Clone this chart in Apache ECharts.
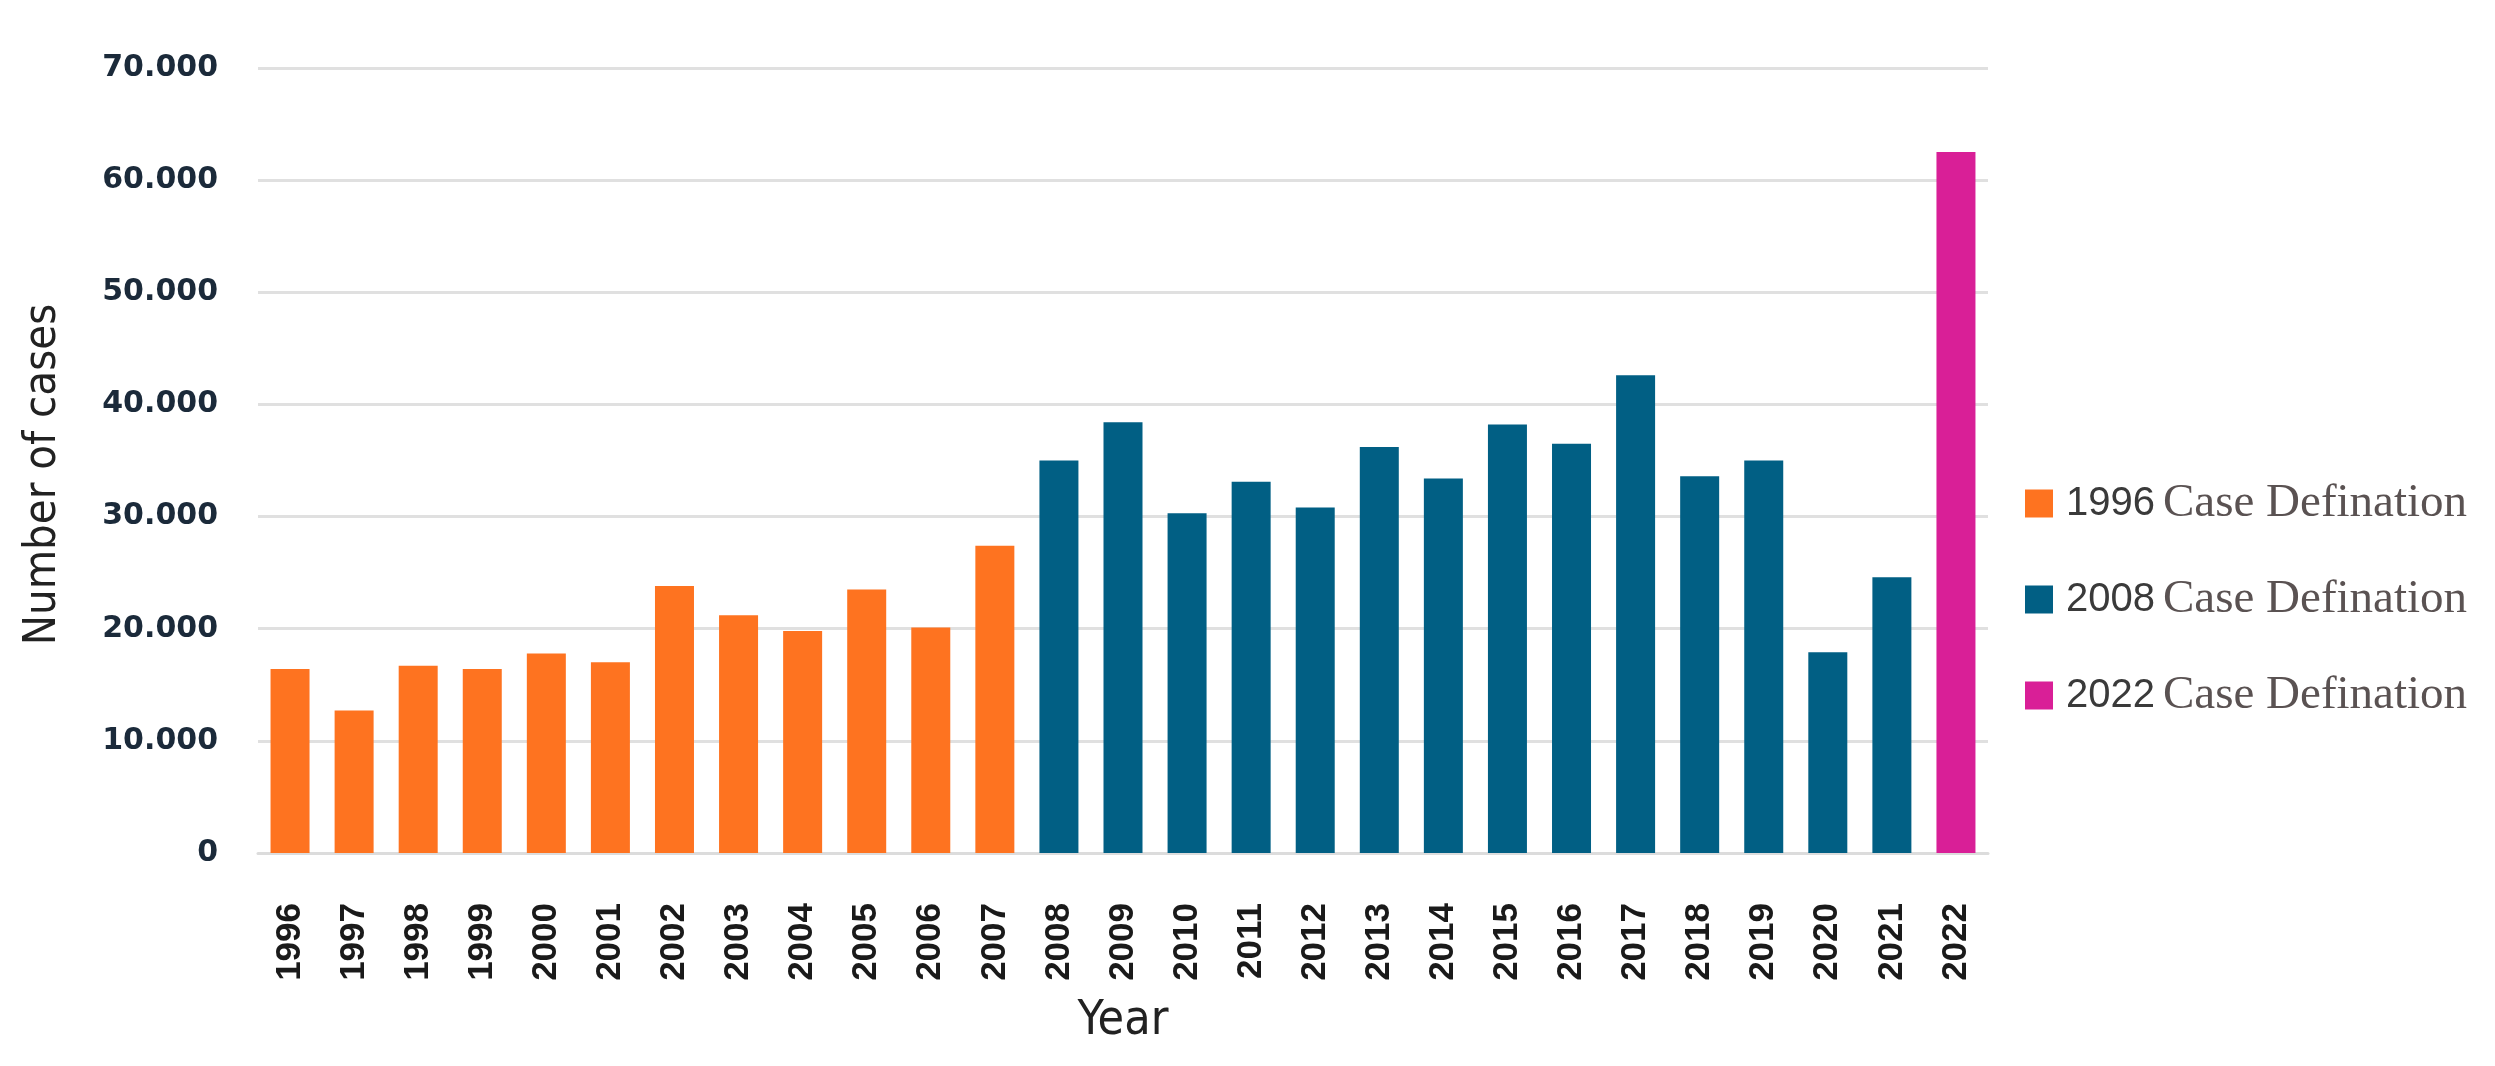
<!DOCTYPE html>
<html>
<head>
<meta charset="utf-8">
<script src="https://cdn.jsdelivr.net/npm/echarts@6/dist/echarts.min.js"></script>
<style>
html,body{margin:0;padding:0;background:#fff;}
#chart{width:2495px;height:1066px;}
</style>
</head>
<body>
<div id="chart"></div>
<script>
const years = ['1996','1997','1998','1999','2000','2001','2002','2003','2004','2005','2006','2007','2008','2009','2010','2011','2012','2013','2014','2015','2016','2017','2018','2019','2020','2021','2022'];
const def1996Values = [16400,12700,16700,16400,17800,17000,23800,21200,19800,23500,20100,27400];
const def2008Values = [35000,38400,30300,33100,30800,36200,33400,38200,36500,42600,33600,35000,17900,24600];
const def2022Values = [62500];
const seriesNames = ['1996 Case Defination','2008 Case Defination','2022 Case Defination'];
const yTicks = [0,10000,20000,30000,40000,50000,60000,70000];

function pad(arr, before, total) {
  const out = [];
  for (let i = 0; i < total; i++) {
    const j = i - before;
    out.push(j >= 0 && j < arr.length ? arr[j] : '-');
  }
  return out;
}
const n = years.length;
const s1 = pad(def1996Values, 0, n);
const s2 = pad(def2008Values, def1996Values.length, n);
const s3 = pad(def2022Values, def1996Values.length + def2008Values.length, n);

const chart = echarts.init(document.getElementById('chart'), null, {renderer:'canvas'});
const fmt = v => v === 0 ? '0' : String(v).replace(/\B(?=(\d{3})+(?!\d))/g, '.');
const narrow = "'Liberation Sans Narrow', 'DejaVu Sans Condensed', 'Liberation Sans', sans-serif";

chart.setOption({
  animation:false,
  backgroundColor:'#ffffff',
  grid:{left:258, right:507, top:68, bottom:213, containLabel:false},
  legend:{
    orient:'vertical',
    left:2020,
    top:475,
    itemWidth:28,
    itemHeight:28,
    itemGap:49,
    icon:'rect',
    data:seriesNames,
    formatter: name => {
      const parts = name.split(' ');
      return '{y|' + parts[0] + '}{t|' + parts.slice(1).join(' ') + '}';
    },
    textStyle:{
      rich:{
        y:{fontFamily:'Liberation Sans', fontSize:40, color:'#3a3a3a', padding:[0,8,0,8], lineHeight:56},
        t:{fontFamily:'Liberation Serif', fontSize:47, color:'#5a5252', lineHeight:56}
      }
    }
  },
  xAxis:{
    type:'category',
    data:years,
    name:'Year',
    nameLocation:'middle',
    nameGap:145,
    nameTextStyle:{fontFamily:narrow, fontSize:48, color:'#222'},
    axisLine:{show:true, lineStyle:{color:'#dcdcdc', width:3}},
    axisTick:{show:false},
    axisLabel:{rotate:90, margin:50, fontFamily:'Liberation Sans', fontWeight:'bold', fontSize:35, color:'#1a1a1a', interval:0}
  },
  yAxis:{
    type:'value',
    min:0, max:70000, interval:10000,
    name:'Number of cases',
    nameLocation:'middle',
    nameRotate:90,
    nameGap:192,
    nameTextStyle:{fontFamily:narrow, fontSize:45, color:'#222', padding:[0,28,0,0]},
    axisLine:{show:false},
    axisTick:{show:false},
    splitLine:{lineStyle:{color:'#e0e0e0', width:3}},
    axisLabel:{margin:40, formatter:fmt, fontFamily:'DejaVu Sans', fontWeight:'bold', fontSize:30, color:'#1b2a3a'}
  },
  series:[
    {name:seriesNames[0], type:'bar', stack:'all', data:s1, barWidth:39, itemStyle:{color:'#FE7320'}},
    {name:seriesNames[1], type:'bar', stack:'all', data:s2, barWidth:39, itemStyle:{color:'#015F84'}},
    {name:seriesNames[2], type:'bar', stack:'all', data:s3, barWidth:39, itemStyle:{color:'#D91F97'}}
  ]
});
</script>
</body>
</html>
